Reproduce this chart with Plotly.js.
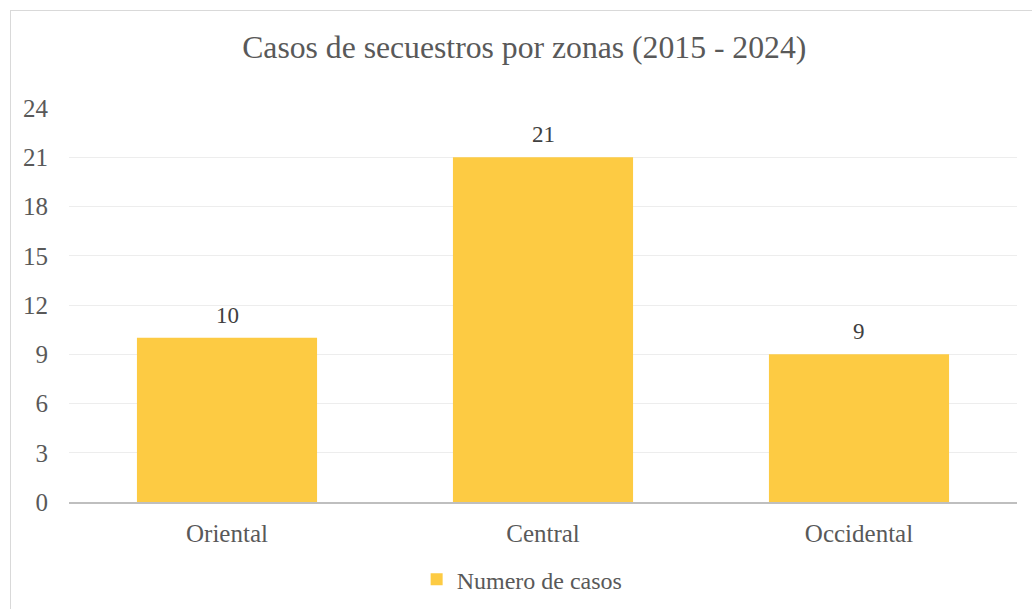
<!DOCTYPE html>
<html>
<head>
<meta charset="utf-8">
<script src="https://cdn.plot.ly/plotly-3.0.1.min.js"></script>
<style>
  html, body { margin: 0; padding: 0; background: #ffffff; overflow: hidden; }
  #frame { position: absolute; left: 10px; top: 10px; width: 1040px; height: 620px; border: 1px solid #d9d9d9; box-sizing: border-box; }
  #chart { position: absolute; left: 0; top: 0; width: 1032px; height: 609px; }
</style>
</head>
<body>
<div id="frame"></div>
<div id="chart"></div>
<script>
const categories = ["Oriental", "Central", "Occidental"];
const casos = [10, 21, 9];
const yTicks = [0, 3, 6, 9, 12, 15, 18, 21, 24];
const seriesName = "Numero de casos";
const chartTitle = "Casos de secuestros por zonas (2015 - 2024)";

const serif = "'Liberation Serif', 'Times New Roman', serif";
const textGray = "#595959";

const data = [{
  type: "bar",
  x: categories,
  y: casos,
  name: seriesName,
  marker: { color: "#FDCB43" },
  width: 0.57,
  hoverinfo: "x+y"
}];

const annotations = categories.map((c, i) => ({
  x: c,
  y: casos[i],
  xref: "x",
  yref: "y",
  text: String(casos[i]),
  showarrow: false,
  yanchor: "bottom",
  yshift: 8,
  font: { family: serif, size: 23, color: "#404040" }
}));

const layout = {
  width: 1032,
  height: 609,
  paper_bgcolor: "rgba(0,0,0,0)",
  plot_bgcolor: "rgba(0,0,0,0)",
  margin: { l: 69, r: 15, t: 108, b: 107 },
  title: {
    text: chartTitle,
    font: { family: serif, size: 31.7, color: textGray },
    x: 0.508, xanchor: "center",
    y: 1, yref: "paper", yanchor: "bottom",
    pad: { b: 50 }
  },
  xaxis: {
    type: "category",
    tickfont: { family: serif, size: 25, color: textGray },
    showgrid: false,
    showline: true,
    linecolor: "#BFBFBF",
    linewidth: 1.5,
    ticks: "",
    ticklabelstandoff: 8
  },
  yaxis: {
    range: [0, 24],
    tickvals: yTicks,
    ticktext: yTicks.map(String),
    tickfont: { family: serif, size: 25, color: textGray },
    showgrid: true,
    gridcolor: "#EDEDED",
    gridwidth: 1,
    zeroline: false,
    showline: false,
    ticks: "",
    ticklabelstandoff: 20
  },
  annotations: annotations,
  showlegend: true,
  legend: {
    orientation: "h",
    x: 0.478, xanchor: "center",
    xref: "paper",
    y: 0.048, yref: "container", yanchor: "middle",
    font: { family: serif, size: 24, color: textGray },
    itemwidth: 30,
    bgcolor: "rgba(0,0,0,0)"
  },
  bargap: 0.43
};

Plotly.newPlot("chart", data, layout, { displayModeBar: false, staticPlot: true });
</script>
</body>
</html>
